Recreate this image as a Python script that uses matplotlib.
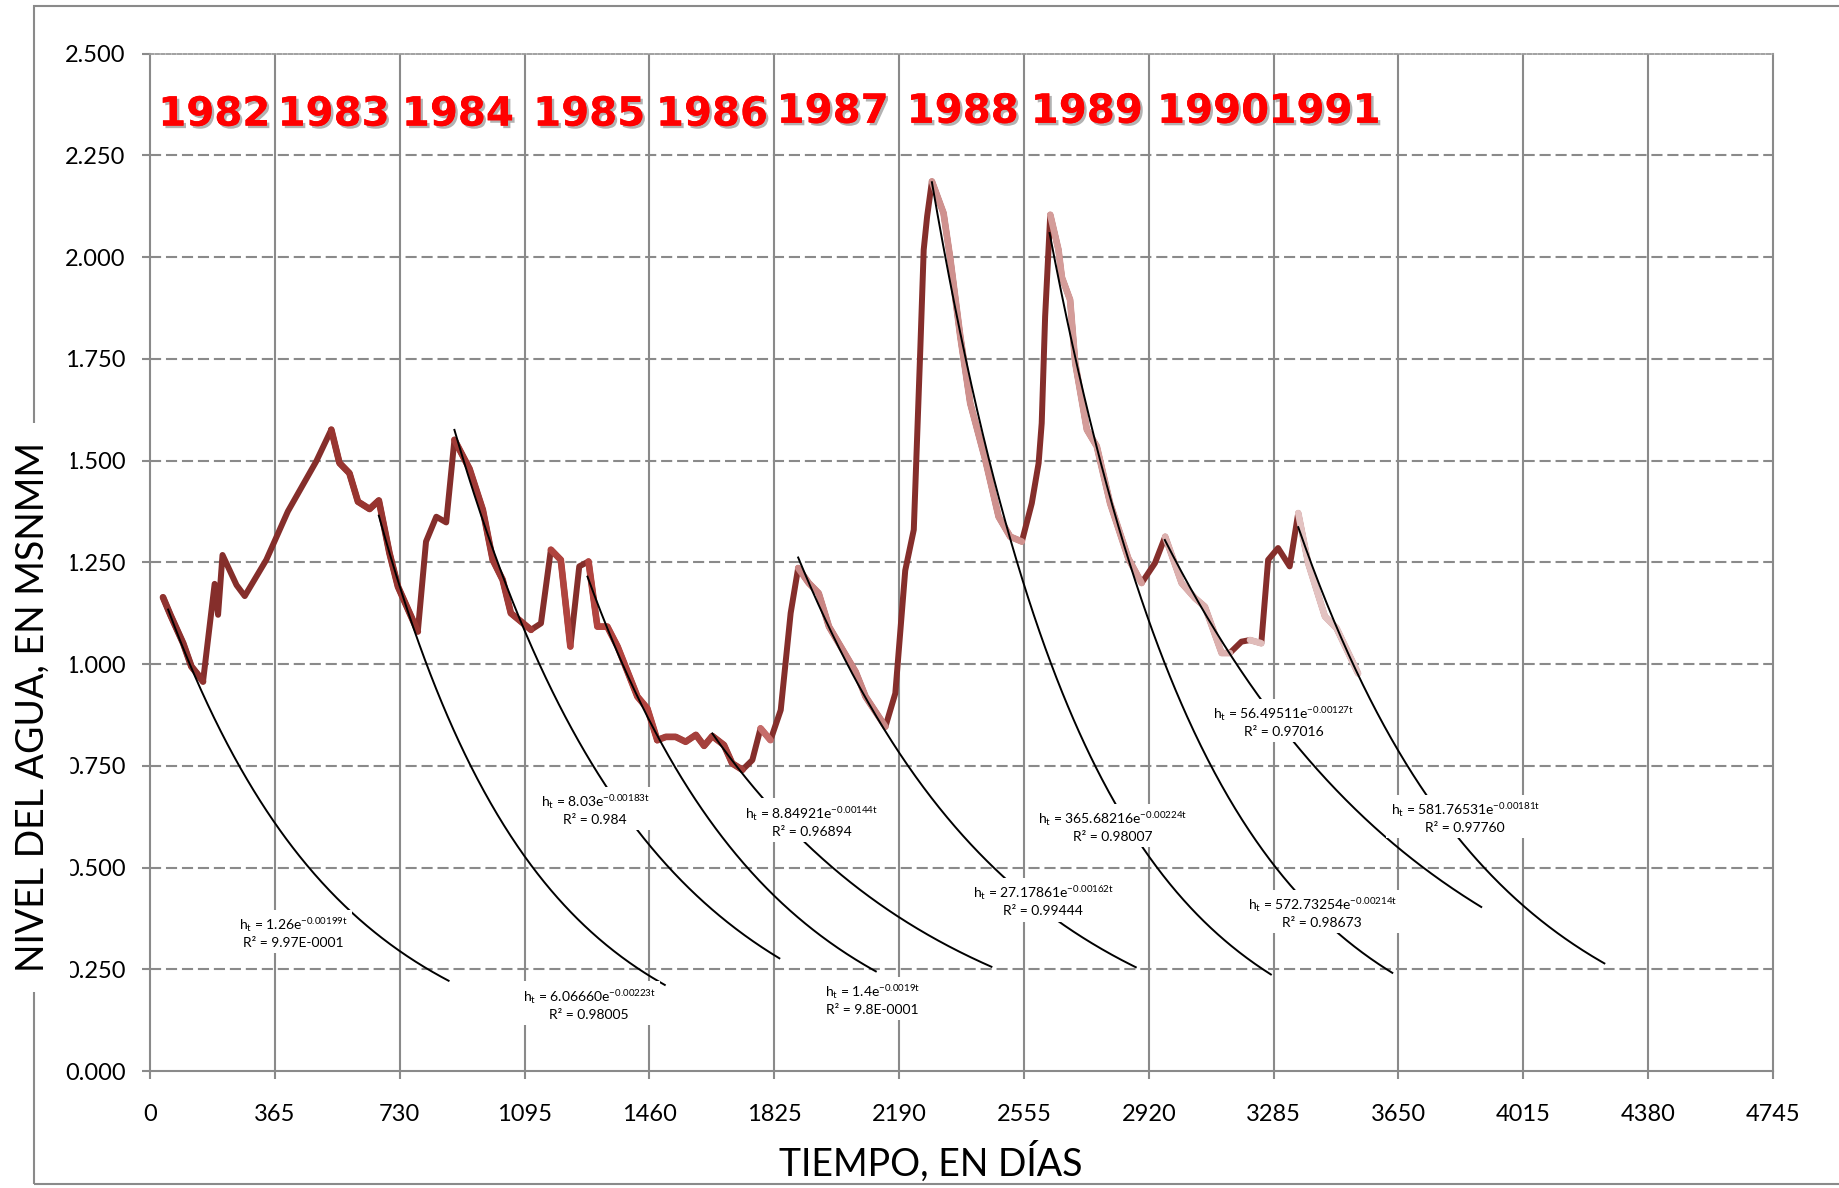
import numpy as np
import matplotlib
matplotlib.use("Agg")
import matplotlib.pyplot as plt
import matplotlib.patheffects as pe
from matplotlib.patches import Rectangle

# ---------------- data ----------------
days = [38, 60, 97, 121, 141, 155, 189, 199, 212, 253, 277, 340, 403, 486, 530,
        554, 583, 608, 642, 669, 700, 725, 783, 807, 837, 866, 890, 934, 973,
        1002, 1031, 1055, 1114, 1143, 1172, 1201, 1229, 1255, 1282, 1308, 1337,
        1367, 1425, 1454, 1483, 1508, 1537, 1566, 1596, 1620, 1644, 1678, 1702,
        1732, 1761, 1785, 1814, 1844, 1873, 1895, 1926, 1955, 1985, 2025, 2063,
        2092, 2150, 2179, 2208, 2233, 2252, 2262, 2272, 2286, 2320, 2340, 2369,
        2398, 2442, 2481, 2515, 2549, 2578, 2598, 2607, 2617, 2632, 2656, 2666,
        2690, 2705, 2739, 2768, 2807, 2860, 2899, 2938, 2968, 3016, 3055, 3084,
        3133, 3157, 3191, 3216, 3249, 3269, 3298, 3332, 3357, 3386, 3435, 3469,
        3532]
level = [1.164, 1.120, 1.051, 0.994, 0.973, 0.957, 1.197, 1.121, 1.268, 1.194,
         1.167, 1.256, 1.375, 1.498, 1.576, 1.494, 1.469, 1.399, 1.381, 1.402,
         1.273, 1.190, 1.080, 1.301, 1.362, 1.348, 1.551, 1.480, 1.379, 1.256,
         1.207, 1.125, 1.084, 1.100, 1.281, 1.256, 1.043, 1.240, 1.252, 1.092,
         1.092, 1.043, 0.920, 0.891, 0.813, 0.821, 0.821, 0.809, 0.826, 0.799,
         0.823, 0.801, 0.756, 0.740, 0.764, 0.842, 0.813, 0.887, 1.125, 1.236,
         1.199, 1.174, 1.092, 1.035, 0.981, 0.920, 0.846, 0.928, 1.230, 1.330,
         1.772, 2.018, 2.100, 2.186, 2.108, 1.994, 1.805, 1.641, 1.502, 1.362,
         1.313, 1.301, 1.395, 1.494, 1.592, 1.854, 2.104, 2.018, 1.950, 1.895,
         1.740, 1.576, 1.535, 1.395, 1.260, 1.199, 1.248, 1.313, 1.199, 1.162,
         1.141, 1.027, 1.027, 1.055, 1.059, 1.051, 1.256, 1.285, 1.240, 1.371,
         1.248, 1.117, 1.088, 0.977]

# recession stretches highlighted per year (day ranges)
rec_start = [38, 530, 890, 1172, 1282, 1483, 1785, 1895, 2286, 2632, 2968, 3216, 3357]
rec_end = [155, 783, 1114, 1229, 1483, 1732, 1814, 2150, 2549, 2899, 3157, 3249, 3532]

# exponential trend lines h = a * exp(-b t)
trend_a = [1.26, 6.0666, 8.03, 13.8, 8.84921, 27.17861, 365.68216, 572.73254, 56.49511, 581.76531]
trend_b = [0.00199, 0.00223, 0.00183, 0.0019, 0.00144, 0.00162, 0.00224, 0.00214, 0.00127, 0.00181]
trend_t0 = [53, 669, 890, 1279, 1644, 1895, 2286, 2630, 2967, 3357]
trend_t1 = [873, 1505, 1840, 2122, 2460, 2882, 3277, 3632, 3892, 4252]
coef_text = ["1.26", "6.06660", "8.03", "1.4", "8.84921", "27.17861", "365.68216",
             "572.73254", "56.49511", "581.76531"]
exp_text = ["-0.00199t", "-0.00223t", "-0.00183t", "-0.0019t", "-0.00144t",
            "-0.00162t", "-0.00224t", "-0.00214t", "-0.00127t", "-0.00181t"]
r2_text = ["9.97E-0001", "0.98005", "0.984", "9.8E-0001", "0.96894", "0.99444",
           "0.98007", "0.98673", "0.97016", "0.97760"]

years = ["1982", "1983", "1984", "1985", "1986", "1987", "1988", "1989", "1990", "1991"]
x_ticks = [0, 365, 730, 1095, 1460, 1825, 2190, 2555, 2920, 3285, 3650, 4015, 4380, 4745]
y_ticks = [0.0, 0.25, 0.5, 0.75, 1.0, 1.25, 1.5, 1.75, 2.0, 2.25, 2.5]

# ---------------- style / layout ----------------
plt.rcParams['font.family'] = ['Lato', 'DejaVu Sans']
plt.rcParams['mathtext.default'] = 'regular'
plt.rcParams['lines.scale_dashes'] = False

GRAY = '#8a8a8a'
DARK = '#852e2b'
rec_colors = ['#8f322f', '#983530', '#a03a36', '#b0433e', '#b2443f', '#a5403c',
              '#c66c6a', '#c98583', '#cf918e', '#d49c99', '#dcb0ae', '#e0bcba', '#e3c2c1']

label_pos = [(418, 0.340), (1284, 0.164), (1301, 0.643), (2112, 0.176), (1934, 0.614),
             (2612, 0.418), (2814, 0.600), (3427, 0.389), (3314, 0.859), (3845, 0.623)]
year_pos = [(188, 2.350), (537, 2.350), (900, 2.350), (1284, 2.350), (1643, 2.350),
            (1996, 2.357), (2376, 2.357), (2739, 2.357), (3108, 2.357), (3434, 2.357)]

W, H = 1839, 1188
fig = plt.figure(figsize=(W / 100, H / 100), dpi=100)
ax = fig.add_axes([150 / W, 1 - 1071 / H, (1773 - 150) / W, (1071 - 53.6) / H])

# outer frame
fig.add_artist(Rectangle((33.5 / W, 1 - 1184 / H), 1.2, (1184 - 5.7) / H,
                         transform=fig.transFigure, fill=False, ec=GRAY, lw=1.5, zorder=0))

ax.set_xlim(0, 4745)
ax.set_ylim(0, 2.5)
ax.set_xticks(x_ticks)
ax.set_xticklabels([str(v) for v in x_ticks])
ax.set_yticks(y_ticks)
ax.set_yticklabels(["%.3f" % v for v in y_ticks])
ax.tick_params(axis='x', direction='out', length=5.8, width=1.5, color=GRAY,
               labelsize=17, pad=18)
ax.tick_params(axis='y', direction='out', length=5.5, width=1.5, color=GRAY,
               labelsize=17, pad=12)

for s in ['left', 'bottom', 'right']:
    ax.spines[s].set_color(GRAY)
    ax.spines[s].set_linewidth(1.5)
ax.spines['top'].set_color('#9a9a9a')
ax.spines['top'].set_linewidth(1.3)
ax.spines['top'].set_linestyle((0, (2.5, 1.5)))

for xv in x_ticks[1:-1]:
    ax.axvline(xv, color=GRAY, lw=1.5, zorder=1)
for yv in y_ticks[1:-1]:
    ax.axhline(yv, color=GRAY, lw=1.5, zorder=1, dashes=(8, 3.5))

# main series
ax.plot(days, level, color=DARK, lw=4.3, solid_joinstyle='round',
        solid_capstyle='round', zorder=3)

d_arr = np.array(days)
l_arr = np.array(level)
for s0, s1, c in zip(rec_start, rec_end, rec_colors):
    m = (d_arr >= s0) & (d_arr <= s1)
    ax.plot(d_arr[m], l_arr[m], color=c, lw=4.8, solid_joinstyle='round',
            solid_capstyle='round', zorder=4)

# trend lines
for a, b, t0, t1 in zip(trend_a, trend_b, trend_t0, trend_t1):
    tt = np.linspace(t0, t1, 300)
    ax.plot(tt, a * np.exp(-b * tt), color='black', lw=1.4, zorder=5)

# trend labels
for (lx, ly), ct, et, rt in zip(label_pos, coef_text, exp_text, r2_text):
    txt = "h$_{t}$ = " + ct + "e$^{" + et + "}$\nR\u00b2 = " + rt
    ax.text(lx, ly, txt, ha='center', va='center', multialignment='center',
            fontsize=10, linespacing=1.3, zorder=6,
            bbox=dict(facecolor='white', edgecolor='none', pad=3))

# year labels
for (yx, yy), yl in zip(year_pos, years):
    ax.text(yx, yy, yl, ha='center', va='center', fontsize=29, fontweight='bold',
            family='DejaVu Sans', color='#ff0000', zorder=7,
            path_effects=[pe.withSimplePatchShadow(offset=(1.8, -1.8),
                                                   shadow_rgbFace=(0.45, 0.45, 0.45),
                                                   alpha=0.55), pe.Normal()])

# axis titles
fig.text(33 / W, 1 - 707 / H, "NIVEL DEL AGUA, EN MSNMM", rotation=90,
         ha='center', va='center', fontsize=27,
         bbox=dict(facecolor='white', edgecolor='none', pad=14))
fig.text(931 / W, 12 / H, "TIEMPO, EN DÍAS", ha='center', va='baseline', fontsize=27)

fig.savefig("out.png", dpi=100)
